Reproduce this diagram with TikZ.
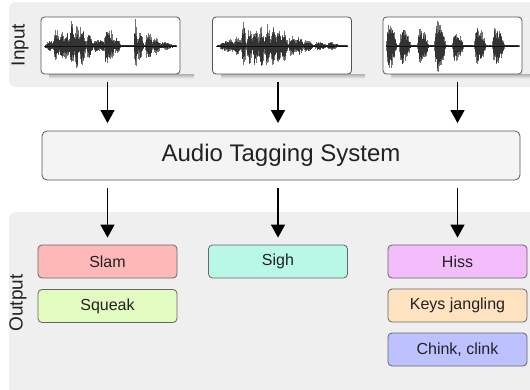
\documentclass[tikz,border=0pt]{standalone}
\usepackage{fontspec}
\setmainfont{Liberation Sans}
\usetikzlibrary{arrows.meta}
\definecolor{panel}{HTML}{EFEFEF}
\definecolor{edge}{HTML}{555555}
\definecolor{cslam}{HTML}{FFB8B8}
\definecolor{csqueak}{HTML}{E2FBC0}
\definecolor{csigh}{HTML}{B9F7E7}
\definecolor{chiss}{HTML}{F3BCFA}
\definecolor{ckeys}{HTML}{FFE2C0}
\definecolor{cchink}{HTML}{BDC1FF}
\definecolor{txt}{HTML}{222222}
\tikzset{
  wavebox/.style={draw=edge, line width=0.8pt, fill=white, rounded corners=3.5pt,
    minimum width=139pt, minimum height=57pt, inner sep=0pt},
  sysbox/.style={draw=edge, line width=0.8pt, fill=panel!70!white, rounded corners=5pt,
    minimum width=478pt, minimum height=49pt, inner sep=0pt, text=txt,
    font=\fontsize{24}{28}\selectfont},
  tagbox/.style={draw=edge!90, line width=0.8pt, rounded corners=4pt,
    minimum width=139pt, minimum height=33pt, inner sep=0pt, text=txt,
    font=\fontsize{16}{19}\selectfont},
  flow/.style={line width=1.3pt, -{Triangle[width=14pt,length=13pt]}},
  wave/.style={line width=0.6pt, black, opacity=0.55},
  sidelabel/.style={rotate=90, text=txt, font=\fontsize{19}{22}\selectfont, inner sep=0pt},
  declare function={tent(\t,\c,\l,\r)=max(0,min(1-(\c-\t)/\l,1-(\t-\c)/\r));
                    burst(\t,\c,\a,\l,\r)=1.12*\a*tent(\t,\c,\l,\r)*(2-tent(\t,\c,\l,\r));}
}
\begin{document}
\begin{tikzpicture}[x=1pt,y=-1pt]
\useasboundingbox (0,0) rectangle (530,389);
\begin{scope}
  \clip (0,0) rectangle (530,389);
  \fill[panel, rounded corners=7pt] (9,2) rectangle (560,87);
  \fill[panel, rounded corners=7pt] (9,212) rectangle (560,420);
\end{scope}

% labels
\node[sidelabel] (inlab) at (20,45) {Input};
\node[sidelabel] (outlab) at (18,303) {Output};

% shadows under waveform boxes
\foreach \xa/\xb in {41/180, 213/351, 383/522}{
  \shade[top color=black!28, bottom color=panel] (\xa+8,74.5) rectangle (\xb+14,78.5);
}

% waveform boxes
\node[wavebox] (in1) at (110.5,45.5) {};
\node[wavebox] (in2) at (282,45.5) {};
\node[wavebox] (in3) at (452.5,45.5) {};

% baselines
\draw[black!70, line width=0.5pt] (44,46) -- (177,46);
\draw[black!70, line width=0.5pt] (216,46) -- (348,46);
\draw[black!70, line width=0.5pt] (386,46) -- (519,46);

% waveform 1
\pgfmathsetseed{11}
\foreach \t in {45,45.5,...,176}{
  \pgfmathsetmacro{\e}{max(1.5, burst(\t,50,5,6,6), burst(\t,55,18,2,5), burst(\t,61,15,2,4),
     burst(\t,66,14,3,4), burst(\t,71,23,2,4), burst(\t,76,20,2,4), burst(\t,81,20,2,5),
     burst(\t,88,12,2,6), burst(\t,96,6,3,6), burst(\t,101,6,3,5), burst(\t,106,20,2,4),
     burst(\t,110,15,2,5), burst(\t,116,8,2,5), burst(\t,135,24,1.5,3), burst(\t,139,13,2,5),
     burst(\t,148,14,3,5), burst(\t,155,8,3,6), burst(\t,163,4,4,12))}
  \pgfmathsetmacro{\a}{\e*(0.4+0.6*rnd)}
  \pgfmathsetmacro{\b}{\e*(0.4+0.6*rnd)}
  \draw[wave] (\t,46-\a) -- (\t,46+\b);
}
% waveform 2
\pgfmathsetseed{23}
\foreach \t in {217,217.5,...,347}{
  \pgfmathsetmacro{\e}{max(1.5, burst(\t,230,6,12,6), burst(\t,237,9,4,5), burst(\t,243,23,2,3),
     burst(\t,249,18,3,4), burst(\t,255,20,3,4), burst(\t,261,19,3,4), burst(\t,267,20,3,4),
     burst(\t,273,20,3,4), burst(\t,278,18,2,4), burst(\t,283,15,2,5), burst(\t,291,10,3,6),
     burst(\t,298,9,3,6), burst(\t,306,6,3,8), burst(\t,318,4,4,10), burst(\t,330,3.5,4,10))}
  \pgfmathsetmacro{\a}{\e*(0.4+0.6*rnd)}
  \pgfmathsetmacro{\b}{\e*(0.4+0.6*rnd)}
  \draw[wave] (\t,46-\a) -- (\t,46+\b);
}
% waveform 3
\pgfmathsetseed{5}
\foreach \t in {386,386.5,...,519}{
  \pgfmathsetmacro{\e}{max(1.2, burst(\t,388,23,2,9), burst(\t,402,17,3,9), burst(\t,420,16,3,9),
     burst(\t,437,24,3,9), burst(\t,455,14,3,9), burst(\t,477,18,3,9), burst(\t,495,17,3,10))}
  \pgfmathsetmacro{\a}{\e*(0.4+0.6*rnd)}
  \pgfmathsetmacro{\b}{\e*(0.4+0.6*rnd)}
  \draw[wave] (\t,46-\a) -- (\t,46+\b);
}

% system
\node[sysbox] (ats) at (281,155.5) {Audio Tagging System};

% outputs
\node[tagbox, fill=cslam] (slam) at (107.5,261.5) {Slam};
\node[tagbox, fill=csqueak] (squeak) at (107.5,306) {Squeak};
\node[tagbox, fill=csigh] (sigh) at (278,261.5) {Sigh};
\node[tagbox, fill=chiss] (hiss) at (457.5,261.5) {Hiss};
\node[tagbox, fill=ckeys] (keys) at (457.5,305.5) {Keys jangling};
\node[tagbox, fill=cchink] (chink) at (457.5,349.5) {Chink, clink};

% arrows
\draw[flow, shorten <=8pt, shorten >=7.5pt] (in1.south -| slam.north) -- (ats.north -| slam.north);
\draw[flow, shorten <=8pt, shorten >=7.5pt] (in2.south -| sigh.north) -- (ats.north -| sigh.north);
\draw[flow, shorten <=8pt, shorten >=7.5pt] (in3.south -| hiss.north) -- (ats.north -| hiss.north);
\draw[flow, shorten <=8pt, shorten >=7pt] (ats.south -| slam.north) -- (slam.north);
\draw[flow, shorten <=8pt, shorten >=7pt] (ats.south -| sigh.north) -- (sigh.north);
\draw[flow, shorten <=8pt, shorten >=7pt] (ats.south -| hiss.north) -- (hiss.north);
\end{tikzpicture}
\end{document}
